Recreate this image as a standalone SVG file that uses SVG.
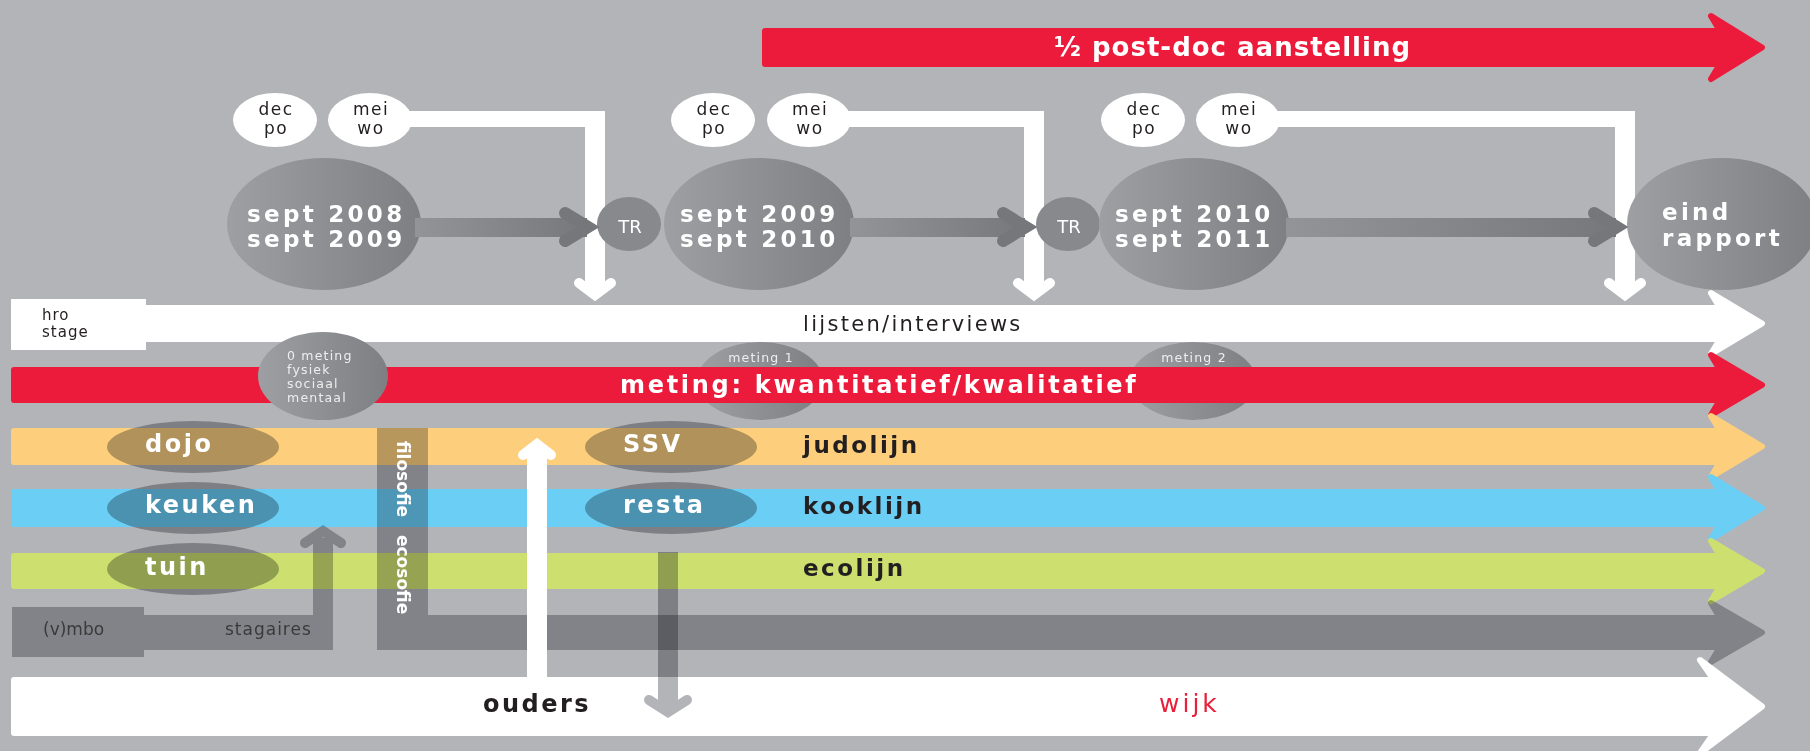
<svg xmlns="http://www.w3.org/2000/svg" width="1810" height="751" viewBox="0 0 1810 751">
<style>
text{font-family:"DejaVu Sans","Liberation Sans",sans-serif}
.b{font-weight:bold}
.w{fill:#ffffff}
.k{fill:#231f20}
.band{stroke-width:6;stroke-linejoin:round}
.mul{mix-blend-mode:multiply}
.chev{fill:none;stroke-linecap:round;stroke-linejoin:miter}
.yr{font-size:23px;letter-spacing:3.3px}
.sm{font-size:17px;letter-spacing:1.5px}
.ms{font-size:12.5px;letter-spacing:1.2px;fill:#eeeeee}
</style>
<defs>
<linearGradient id="gc" x1="0" y1="0" x2="1" y2="0">
<stop offset="0" stop-color="#9e9fa3"/><stop offset="1" stop-color="#7e7f83"/>
</linearGradient>
<linearGradient id="ga" x1="0" y1="0" x2="1" y2="0">
<stop offset="0" stop-color="#939498"/><stop offset="1" stop-color="#77787c"/>
</linearGradient>
</defs>
<rect width="1810" height="751" fill="#b3b4b8"/>

<!-- measurement ellipses behind red band -->
<g id="meting1"><ellipse cx="760" cy="381" rx="63" ry="39" fill="url(#gc)"/><text class="ms" x="761" y="362" text-anchor="middle">meting 1</text></g>
<g id="meting2"><ellipse cx="1193" cy="381" rx="63" ry="39" fill="url(#gc)"/><text class="ms" x="1194" y="362" text-anchor="middle">meting 2</text></g>

<!-- bands -->
<g id="postdoc"><path class="band" d="M765,31 H1720 L1711,16 L1762,47.5 L1711,79 L1720,64 H765 Z" fill="#ec1b3b" stroke="#ec1b3b"/>
<text class="b w" x="1054" y="56" font-size="26" letter-spacing="1">½ post-doc aanstelling</text></g>
<g id="lijsten"><path class="band" d="M14,308 H1720 L1711,293 L1762,323.5 L1711,354 L1720,339 H14 Z" fill="#ffffff" stroke="#ffffff"/>
<rect x="11" y="299" width="135" height="51" fill="#ffffff"/>
<text class="k" x="42" y="320" font-size="15" letter-spacing="1">hro</text><text class="k" x="42" y="337" font-size="15" letter-spacing="1">stage</text>
<text class="k" x="803" y="331" font-size="21" letter-spacing="2.3">lijsten/interviews</text></g>
<g id="meting"><path class="band" d="M14,370 H1720 L1711,355 L1762,385 L1711,415 L1720,400 H14 Z" fill="#ec1b3b" stroke="#ec1b3b"/>
<text class="b w" x="620" y="393" font-size="24" letter-spacing="2.7">meting: kwantitatief/kwalitatief</text></g>
<g id="judolijn"><path class="band" d="M14,431 H1720 L1711,416 L1762,446.5 L1711,477 L1720,462 H14 Z" fill="#fdcf7c" stroke="#fdcf7c"/>
<text class="b k" x="803" y="453" font-size="23" letter-spacing="2.5">judolijn</text></g>
<g id="kooklijn"><path class="band" d="M14,492 H1720 L1711,477 L1762,508 L1711,539 L1720,524 H14 Z" fill="#6bcef4" stroke="#6bcef4"/>
<text class="b k" x="803" y="514" font-size="23" letter-spacing="2.5">kooklijn</text></g>
<g id="ecolijn"><path class="band" d="M14,556 H1720 L1711,541 L1762,571 L1711,601 L1720,586 H14 Z" fill="#cde06f" stroke="#cde06f"/>
<text class="b k" x="803" y="576" font-size="23" letter-spacing="2.5">ecolijn</text></g>

<g id="meting0"><ellipse cx="323" cy="376" rx="65" ry="44" fill="url(#gc)"/>
<text class="ms" x="287" y="360">0 meting</text>
<text class="ms" x="287" y="374">fysiek</text>
<text class="ms" x="287" y="388">sociaal</text>
<text class="ms" x="287" y="402">mentaal</text></g>

<!-- filosofie / ecosofie band -->
<g id="filosofie"><g class="mul" fill="#b9babd" stroke="#b9babd">
<rect x="377" y="428" width="51" height="222" stroke="none"/>
<path class="band" d="M380,618 H1720 L1711,603 L1762,632.5 L1711,662 L1720,647 H380 Z"/></g>
<text class="b w" font-size="17" transform="translate(397,441) rotate(90)">filosofie</text>
<text class="b w" font-size="17" transform="translate(397,535) rotate(90)">ecosofie</text></g>

<g id="vmbo"><g class="mul" fill="#b9babd">
<rect x="12" y="607" width="132" height="50"/>
<rect x="144" y="615" width="189" height="35"/>
<rect x="313" y="538" width="20" height="112"/>
<polyline class="chev" points="305,543 323,531 341,543" stroke="#b9babd" stroke-width="10"/></g>
<text x="43" y="635" font-size="17" fill="#3a3a3c">(v)mbo</text>
<text x="225" y="635" font-size="17" letter-spacing="1" fill="#3a3a3c">stagaires</text></g>

<g id="ouders"><path class="band" d="M14,680 H1714 L1700,660 L1762,706.5 L1700,753 L1714,733 H14 Z" fill="#ffffff" stroke="#ffffff"/>
<text class="b k" x="483" y="712" font-size="24" letter-spacing="2.5">ouders</text>
<text x="1159" y="712" font-size="25" letter-spacing="3" fill="#e8203a">wijk</text></g>

<!-- connectors -->
<g id="connectors">
<g id="up-white" fill="#ffffff"><rect x="527" y="448" width="20" height="232"/>
<polyline class="chev" points="523,455 537,444 551,455" stroke="#ffffff" stroke-width="10"/></g>
<g id="down-gray" class="mul" fill="#b3b4b8"><rect x="658" y="552" width="20" height="154"/>
<polyline class="chev" points="649,700 668,712 687,700" stroke="#b3b4b8" stroke-width="10"/></g>
<g id="elbows" fill="#ffffff">
<rect x="400" y="111" width="205" height="16"/><rect x="585" y="111" width="20" height="178"/>
<polyline class="chev" points="579,283 595,295 611,283" stroke="#ffffff" stroke-width="10"/>
<rect x="840" y="111" width="204" height="16"/><rect x="1024" y="111" width="20" height="178"/>
<polyline class="chev" points="1018,283 1034,295 1050,283" stroke="#ffffff" stroke-width="10"/>
<rect x="1270" y="111" width="365" height="16"/><rect x="1615" y="111" width="20" height="178"/>
<polyline class="chev" points="1609,283 1625,295 1641,283" stroke="#ffffff" stroke-width="10"/>
</g>
</g>

<!-- band nodes -->
<g id="dojo"><ellipse class="mul" cx="193" cy="447" rx="86" ry="26" fill="#b3b4b8"/><text class="b w" x="145" y="452" font-size="24" letter-spacing="2.5">dojo</text></g>
<g id="keuken"><ellipse class="mul" cx="193" cy="508" rx="86" ry="26" fill="#b3b4b8"/><text class="b w" x="145" y="513" font-size="24" letter-spacing="2.5">keuken</text></g>
<g id="tuin"><ellipse class="mul" cx="193" cy="569" rx="86" ry="26" fill="#b3b4b8"/><text class="b w" x="145" y="575" font-size="24" letter-spacing="2.5">tuin</text></g>
<g id="ssv"><ellipse class="mul" cx="671" cy="447" rx="86" ry="26" fill="#b3b4b8"/><text class="b w" x="623" y="452" font-size="24" letter-spacing="2.5">SSV</text></g>
<g id="resta"><ellipse class="mul" cx="671" cy="508" rx="86" ry="26" fill="#b3b4b8"/><text class="b w" x="623" y="513" font-size="24" letter-spacing="2.5">resta</text></g>

<!-- timeline nodes -->
<g id="tr1"><ellipse cx="629" cy="224" rx="32" ry="27" fill="#88898d"/><text class="w" x="630" y="233" font-size="18" text-anchor="middle">TR</text></g>
<g id="tr2"><ellipse cx="1068" cy="224" rx="32" ry="27" fill="#88898d"/><text class="w" x="1069" y="233" font-size="18" text-anchor="middle">TR</text></g>
<g id="y2008"><ellipse cx="324" cy="224" rx="97" ry="66" fill="url(#gc)"/>
<text class="b w yr" x="247" y="222">sept 2008</text><text class="b w yr" x="247" y="247">sept 2009</text></g>
<g id="y2009"><ellipse cx="759" cy="224" rx="95" ry="66" fill="url(#gc)"/>
<text class="b w yr" x="680" y="222">sept 2009</text><text class="b w yr" x="680" y="247">sept 2010</text></g>
<g id="y2010"><ellipse cx="1194" cy="224" rx="95" ry="66" fill="url(#gc)"/>
<text class="b w yr" x="1115" y="222">sept 2010</text><text class="b w yr" x="1115" y="247">sept 2011</text></g>
<g id="eind"><ellipse cx="1722" cy="224" rx="95" ry="66" fill="url(#gc)"/>
<text class="b w yr" x="1662" y="220">eind</text><text class="b w yr" x="1662" y="246">rapport</text></g>

<g id="timeline-arrows">
<rect x="415" y="218" width="172" height="19" fill="url(#ga)"/>
<polyline class="chev" points="565,213 588,227 565,241" stroke="#76777b" stroke-width="12"/>
<rect x="850" y="218" width="175" height="19" fill="url(#ga)"/>
<polyline class="chev" points="1003,213 1026,227 1003,241" stroke="#76777b" stroke-width="12"/>
<rect x="1286" y="218" width="330" height="19" fill="url(#ga)"/>
<polyline class="chev" points="1594,213 1617,227 1594,241" stroke="#76777b" stroke-width="12"/>
</g>

<!-- dec/mei circles -->
<g id="dec1"><ellipse cx="275" cy="120" rx="42" ry="27" fill="#ffffff"/><text class="k sm" x="276" y="115" text-anchor="middle">dec</text><text class="k sm" x="276" y="134" text-anchor="middle">po</text></g>
<g id="mei1"><ellipse cx="370" cy="120" rx="42" ry="27" fill="#ffffff"/><text class="k sm" x="371" y="115" text-anchor="middle">mei</text><text class="k sm" x="371" y="134" text-anchor="middle">wo</text></g>
<g id="dec2"><ellipse cx="713" cy="120" rx="42" ry="27" fill="#ffffff"/><text class="k sm" x="714" y="115" text-anchor="middle">dec</text><text class="k sm" x="714" y="134" text-anchor="middle">po</text></g>
<g id="mei2"><ellipse cx="809" cy="120" rx="42" ry="27" fill="#ffffff"/><text class="k sm" x="810" y="115" text-anchor="middle">mei</text><text class="k sm" x="810" y="134" text-anchor="middle">wo</text></g>
<g id="dec3"><ellipse cx="1143" cy="120" rx="42" ry="27" fill="#ffffff"/><text class="k sm" x="1144" y="115" text-anchor="middle">dec</text><text class="k sm" x="1144" y="134" text-anchor="middle">po</text></g>
<g id="mei3"><ellipse cx="1238" cy="120" rx="42" ry="27" fill="#ffffff"/><text class="k sm" x="1239" y="115" text-anchor="middle">mei</text><text class="k sm" x="1239" y="134" text-anchor="middle">wo</text></g>
</svg>
